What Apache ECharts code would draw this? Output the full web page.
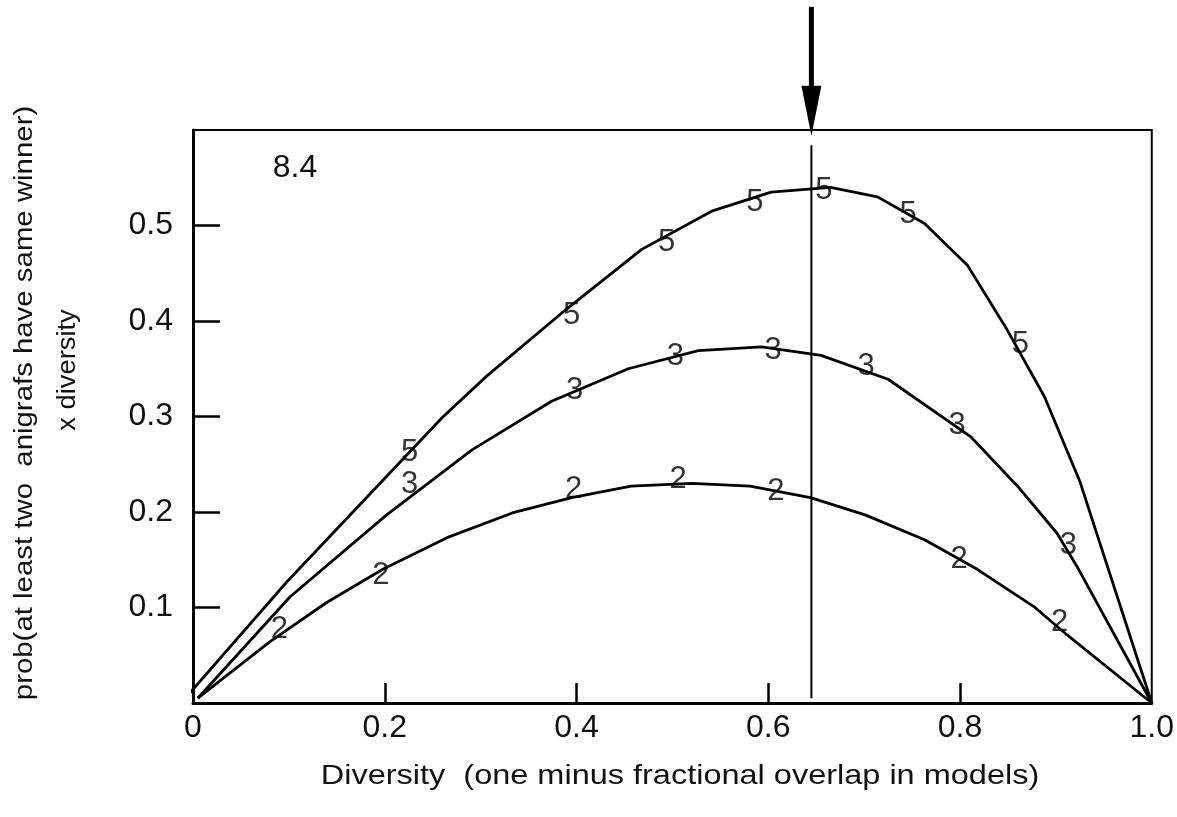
<!DOCTYPE html>
<html>
<head>
<meta charset="utf-8">
<title>Diversity</title>
<script src="https://cdn.jsdelivr.net/npm/echarts@6/dist/echarts.min.js"></script>
<style>
  html, body { margin: 0; padding: 0; background: #fff; }
  #chart { width: 1177px; height: 817px; }
</style>
</head>
<body>
<div id="chart"></div>
<script>
// tick values
const xTicks = [0, 0.2, 0.4, 0.6, 0.8, 1.0]
const yTicks = [0.1, 0.2, 0.3, 0.4, 0.5]

// curves: [diversity, prob x diversity]
const curve2 = [
  [0.005, 0.005], [0.080, 0.064], [0.139, 0.105], [0.198, 0.140], [0.267, 0.174],
  [0.333, 0.199], [0.395, 0.215], [0.457, 0.227], [0.520, 0.230], [0.581, 0.227],
  [0.644, 0.215], [0.701, 0.197], [0.763, 0.171], [0.818, 0.140], [0.877, 0.101],
  [0.912, 0.071], [1.0, 0.0]
]
const curve3 = [
  [0.005, 0.005], [0.101, 0.111], [0.202, 0.197], [0.291, 0.265], [0.374, 0.316],
  [0.454, 0.350], [0.527, 0.369], [0.593, 0.373], [0.655, 0.364], [0.725, 0.339],
  [0.811, 0.279], [0.860, 0.227], [0.901, 0.178], [0.922, 0.143], [1.0, 0.0]
]
const curve5 = [
  [-0.008, 0.005], [0.098, 0.127], [0.260, 0.299], [0.306, 0.342], [0.389, 0.412],
  [0.468, 0.475], [0.541, 0.515], [0.603, 0.535], [0.665, 0.540], [0.714, 0.530],
  [0.763, 0.502], [0.808, 0.458], [0.849, 0.391], [0.888, 0.321], [0.925, 0.232],
  [1.0, 0.0]
]

// where the number markers sit on each curve
const marks2 = [[0.090, 0.077], [0.196, 0.134], [0.397, 0.224], [0.506, 0.234], [0.608, 0.222], [0.799, 0.150], [0.904, 0.084]]
const marks3 = [[0.226, 0.229], [0.398, 0.327], [0.503, 0.363], [0.605, 0.369], [0.702, 0.352], [0.797, 0.291], [0.913, 0.165]]
const marks5 = [[0.226, 0.262], [0.395, 0.406], [0.494, 0.482], [0.586, 0.524], [0.658, 0.537], [0.746, 0.512], [0.863, 0.375]]

// chosen diversity: vertical line and arrow above the box
const chosenX = 0.645
const lineSpan = [0.005, 0.584]
const arrowSpan = [0.594, 0.729]

const FONT = '"Liberation Sans", Arial, sans-serif'

const chartDom = document.getElementById('chart')
const myChart = echarts.init(chartDom)

function curveSeries (name, data) {
  return {
    name: name,
    type: 'line',
    data: data,
    symbol: 'none',
    clip: false,
    silent: true,
    lineStyle: { color: '#000', width: 2.8 },
    z: 3
  }
}

function markSeries (name, data) {
  return {
    name: name,
    type: 'scatter',
    data: data,
    symbolSize: 0,
    silent: true,
    itemStyle: { color: '#000' },
    label: {
      show: true,
      position: 'inside',
      formatter: '{a}',
      fontFamily: FONT,
      fontSize: 31,
      color: '#000'
    },
    z: 4
  }
}

// plain rotated / stretched text
function textItem (text, x, y, size, rot, sx) {
  return {
    type: 'text',
    x: x,
    y: y,
    rotation: rot,
    scaleX: sx,
    style: {
      text: text,
      fontFamily: FONT,
      fontSize: size,
      fill: '#111',
      align: 'center',
      verticalAlign: 'middle'
    }
  }
}

myChart.setOption({
  animation: false,
  backgroundColor: '#fff',
  grid: {
    left: 193,
    right: 20,
    top: 130,
    bottom: 114,
    show: true,
    borderColor: '#000',
    borderWidth: 2
  },
  xAxis: {
    type: 'value',
    min: 0,
    max: 1,
    interval: 0.2,
    axisLine: { lineStyle: { color: '#000', width: 3 } },
    axisTick: {
      inside: true,
      length: 20,
      customValues: xTicks.slice(1, -1),
      lineStyle: { color: '#000', width: 2.5 }
    },
    axisLabel: {
      margin: 9,
      fontFamily: FONT,
      fontSize: 32,
      color: '#111',
      customValues: xTicks,
      formatter: function (v) {
        return v === 0 ? '0' : v.toFixed(1)
      }
    },
    splitLine: { show: false }
  },
  yAxis: {
    type: 'value',
    min: 0,
    max: 0.6,
    interval: 0.1,
    axisLine: { show: true, lineStyle: { color: '#000', width: 3 } },
    axisTick: {
      show: true,
      inside: true,
      length: 27,
      customValues: yTicks,
      lineStyle: { color: '#000', width: 2.5 }
    },
    axisLabel: {
      margin: 20,
      fontFamily: FONT,
      fontSize: 32,
      color: '#111',
      customValues: yTicks,
      formatter: function (v) {
        return v.toFixed(1)
      }
    },
    splitLine: { show: false }
  },
  graphic: [
    textItem('prob(at least two  anigrafs have same winner)', 25, 403, 26, Math.PI / 2, 1.13),
    textItem('x diversity', 68, 370, 26, Math.PI / 2, 1.05),
    textItem('Diversity  (one minus fractional overlap in models)', 680, 776, 28, 0, 1.16),
    textItem('8.4', 295, 168, 32, 0, 1)
  ],
  series: [
    curveSeries('2', curve2),
    curveSeries('3', curve3),
    curveSeries('5', curve5),
    markSeries('2', marks2),
    markSeries('3', marks3),
    markSeries('5', marks5),
    {
      // the thin marker line at the chosen diversity
      type: 'line',
      data: [[chosenX, lineSpan[0]], [chosenX, lineSpan[1]]],
      symbol: 'none',
      silent: true,
      lineStyle: { color: '#000', width: 2 },
      z: 2
    },
    {
      // arrow pointing down onto the box
      type: 'custom',
      clip: false,
      silent: true,
      data: [[chosenX, arrowSpan[0], arrowSpan[1]]],
      renderItem: function (params, api) {
        const tip = api.coord([api.value(0), api.value(1)])
        const top = api.coord([api.value(0), api.value(2)])
        const headLen = 50
        const headHalf = 10
        return {
          type: 'group',
          children: [
            {
              type: 'line',
              shape: { x1: top[0], y1: top[1], x2: tip[0], y2: tip[1] - headLen + 2 },
              style: { stroke: '#000', lineWidth: 5 }
            },
            {
              type: 'polygon',
              shape: {
                points: [
                  [tip[0] - headHalf, tip[1] - headLen],
                  [tip[0] + headHalf, tip[1] - headLen],
                  [tip[0], tip[1]]
                ]
              },
              style: { fill: '#000' }
            }
          ]
        }
      },
      z: 5
    }
  ]
})
</script>
</body>
</html>
